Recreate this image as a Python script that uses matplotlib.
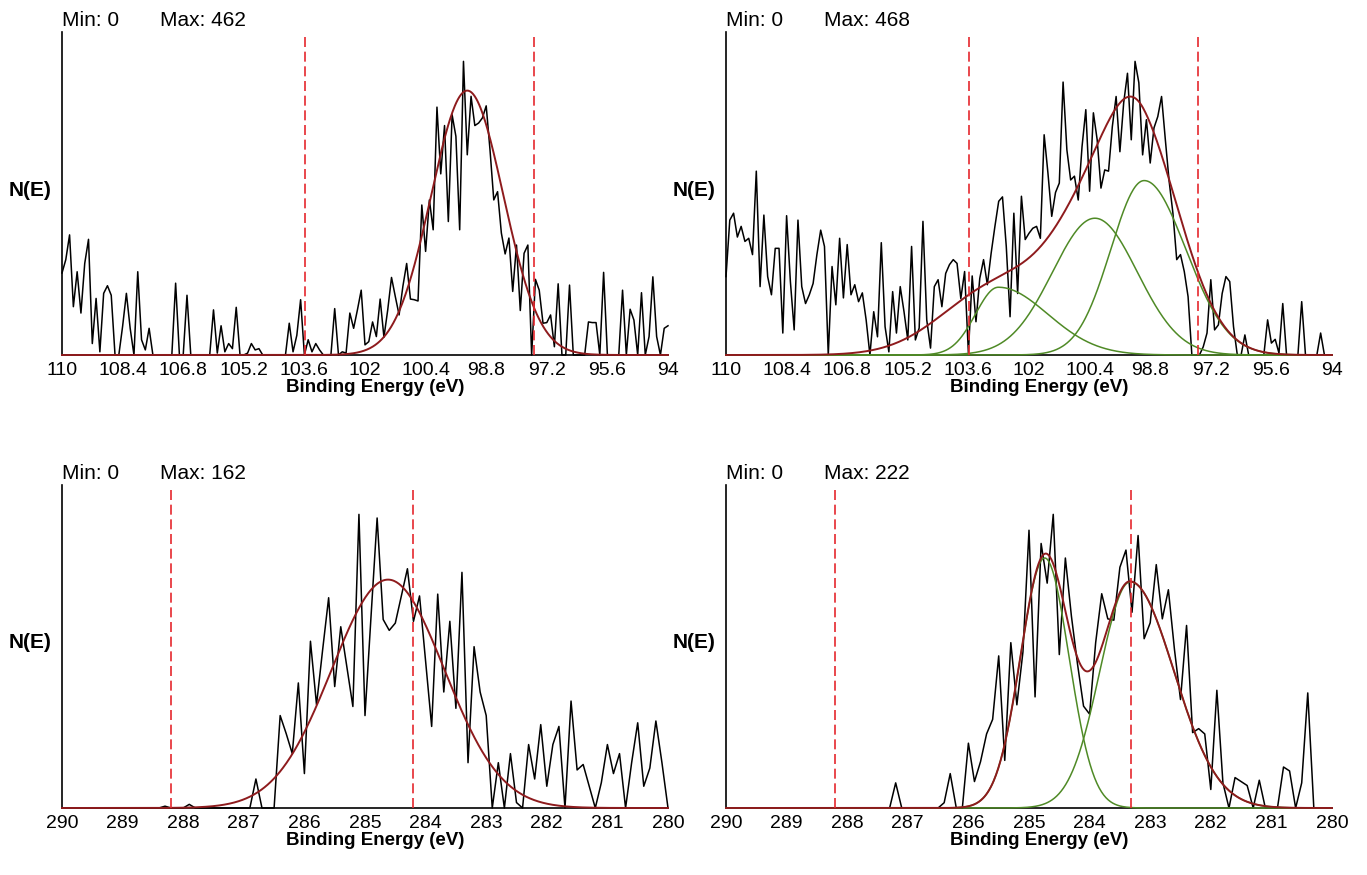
import numpy as np
import matplotlib
matplotlib.use('Agg')
from matplotlib import pyplot as plt

plt.rcParams['font.family'] = ['Liberation Sans', 'DejaVu Sans']

# Si 2p region, 0.1 eV steps 110 -> 94 eV
si_energy = np.round(np.arange(110.0, 93.95, -0.1), 1)
si_counts_a = [129, 150, 189, 76, 131, 66, 144, 182, 18, 89,
               5, 97, 109, 94, 0, 0, 45, 97, 42, 0,
               131, 24, 8, 42, 0, 0, 0, 0, 0, 0,
               113, 0, 0, 94, 0, 0, 0, 0, 0, 0,
               71, 3, 46, 5, 18, 10, 75, 0, 0, 3,
               18, 8, 10, 0, 0, 0, 0, 0, 0, 0,
               50, 5, 31, 87, 0, 24, 5, 18, 8, 0,
               0, 0, 73, 0, 5, 3, 66, 42, 71, 102,
               16, 21, 52, 29, 88, 28, 71, 122, 92, 63,
               108, 144, 88, 87, 85, 236, 163, 244, 197, 390,
               285, 361, 210, 378, 344, 197, 462, 315, 407, 361,
               365, 373, 392, 323, 244, 257, 192, 159, 184, 100,
               173, 70, 160, 173, 0, 119, 102, 50, 51, 63,
               13, 112, 0, 0, 110, 0, 0, 0, 0, 52,
               51, 51, 0, 130, 0, 0, 0, 0, 102, 0,
               72, 55, 0, 98, 0, 29, 123, 29, 0, 42,
               46]
si_counts_b = [125, 215, 226, 188, 205, 181, 186, 160, 293, 109,
               223, 125, 96, 170, 170, 35, 222, 117, 40, 215,
               109, 82, 96, 114, 160, 199, 173, 0, 141, 80,
               186, 91, 176, 96, 112, 85, 99, 56, 0, 69,
               29, 179, 45, 5, 101, 35, 109, 69, 24, 173,
               24, 43, 213, 56, 11, 109, 120, 77, 130, 144,
               152, 146, 90, 133, 3, 126, 53, 122, 152, 112,
               162, 205, 245, 252, 173, 61, 226, 98, 253, 184,
               194, 202, 205, 186, 351, 290, 221, 259, 274, 435,
               327, 279, 285, 247, 332, 391, 261, 386, 343, 266,
               295, 293, 364, 412, 324, 402, 449, 343, 468, 434,
               319, 375, 306, 362, 380, 412, 343, 277, 226, 152,
               160, 133, 93, 0, 0, 0, 13, 35, 120, 40,
               48, 98, 125, 117, 45, 0, 0, 32, 0, 0,
               0, 0, 0, 56, 19, 25, 3, 82, 0, 0,
               0, 0, 85, 0, 0, 0, 0, 35, 0, 0,
               0]

# C 1s region, 0.1 eV steps 290 -> 280 eV
c_energy = np.round(np.arange(290.0, 279.95, -0.1), 1)
c_counts_a = [0, 0, 0, 0, 0, 0, 0, 0, 0, 0,
              0, 0, 0, 0, 0, 0, 0, 1, 0, 0,
              0, 2, 0, 0, 0, 0, 0, 0, 0, 0,
              0, 0, 16, 0, 0, 0, 51, 41, 30, 69,
              19, 92, 57, 87, 116, 67, 100, 78, 56, 162,
              51, 106, 160, 104, 98, 102, 117, 132, 103, 117,
              81, 45, 118, 64, 103, 55, 130, 25, 89, 64,
              51, 0, 25, 0, 30, 3, 0, 35, 16, 46,
              12, 35, 45, 0, 59, 21, 24, 12, 0, 14,
              35, 19, 30, 0, 25, 47, 12, 22, 48, 25,
              0]
c_counts_b = [0, 0, 0, 0, 0, 0, 0, 0, 0, 0,
              0, 0, 0, 0, 0, 0, 0, 0, 0, 0,
              0, 0, 0, 0, 0, 0, 0, 0, 19, 0,
              0, 0, 0, 0, 0, 0, 4, 26, 0, 0,
              49, 20, 35, 56, 67, 115, 36, 125, 78, 118,
              210, 84, 200, 170, 222, 116, 189, 145, 109, 77,
              71, 125, 162, 143, 142, 182, 195, 148, 206, 128,
              140, 184, 143, 165, 120, 82, 138, 57, 60, 56,
              14, 89, 19, 0, 23, 20, 17, 0, 21, 0,
              0, 0, 31, 28, 0, 19, 87, 0, 0, 0,
              0]

# fitted peaks: centre (eV), height, width on high-BE side, width on low-BE side
si_fit_a = [(99.3, 416, 0.95, 0.95)]
si_fit_b = [(102.81, 108, 0.6, 1.3), (100.26, 218, 1.12, 1.12), (98.96, 278, 0.88, 1.1)]
si_env_b = [(102.81, 108, 1.45, 1.3), (100.26, 218, 1.12, 1.12), (98.96, 278, 0.88, 1.1)]
c_fit_a = [(284.62, 126, 0.93, 0.93)]
c_fit_b = [(284.74, 189, 0.4, 0.4), (283.33, 171, 0.5, 0.72)]

# integration windows (red dashed)
si_window = [103.58, 97.54]
c_window_a = [288.2, 284.21]
c_window_b = [288.2, 283.32]

si_ticks = [110, 108.4, 106.8, 105.2, 103.6, 102, 100.4, 98.8, 97.2, 95.6, 94]
c_ticks = [290, 289, 288, 287, 286, 285, 284, 283, 282, 281, 280]

W, H = 1367, 875
DARKRED = '#8e1b1d'
GREEN = '#4f8a26'
DASHRED = '#e5282e'


def peak(x, c, h, s_hi, s_lo):
    s = np.where(x > c, s_hi, s_lo)
    return h * np.exp(-(x - c) ** 2 / (2 * s ** 2))


def fx(px):
    return px / W


def fy(py):
    return 1 - py / H


fig = plt.figure(figsize=(W / 100, H / 100), dpi=100)


def panel(left, top, energy, counts, fits, window, ticks, xlim, env=None):
    ax = fig.add_axes([fx(left), fy(top + 323), 606 / W, 323 / H])
    ax.plot(energy, counts, color='black', lw=1.1, clip_on=False, zorder=2)
    grid = np.linspace(xlim[0], xlim[1], 800)
    comps = [peak(grid, *p) for p in fits]
    if len(comps) > 1:
        for c in comps:
            ax.plot(grid, c, color=GREEN, lw=1.1, clip_on=False, zorder=3)
    if env is None:
        total = np.sum(comps, axis=0)
    else:
        total = np.sum([peak(grid, *p) for p in env], axis=0)
    ax.plot(grid, total, color=DARKRED, lw=1.4, clip_on=False, zorder=4)
    for w in window:
        ax.axvline(w, ymin=0, ymax=0.985, color=DASHRED, lw=1.2, ls=(0, (6, 2.8)), zorder=5)
    ax.set_xlim(*xlim)
    ax.set_ylim(0, max(counts) * 1.1)
    for s in ['top', 'right']:
        ax.spines[s].set_visible(False)
    for s in ['left', 'bottom']:
        ax.spines[s].set_linewidth(1.2)
        ax.spines[s].set_zorder(1)
    ax.set_yticks([])
    ax.set_xticks(ticks)
    ax.set_xticklabels(['%g' % t for t in ticks], fontsize=14)
    ax.tick_params(axis='x', length=0, pad=5)
    ax.set_facecolor('none')
    # annotations
    fig.text(fx(left), fy(top - 6), 'Min: 0', fontsize=15, va='baseline', ha='left')
    fig.text(fx(left + 98), fy(top - 6), 'Max: %d' % max(counts), fontsize=15, va='baseline', ha='left')
    fig.text(fx(left - 32), fy(top + 158), 'N(E)', fontsize=15, fontweight='bold', ha='center', va='center')
    fig.text(fx(left + 313), fy(top + 360), 'Binding Energy (eV)', fontsize=13.5,
             fontweight='bold', ha='center', va='baseline')
    return ax


panel(62, 32, si_energy, si_counts_a, si_fit_a, si_window, si_ticks, (110, 94))
panel(726, 32, si_energy, si_counts_b, si_fit_b, si_window, si_ticks, (110, 94), env=si_env_b)
panel(62, 485, c_energy, c_counts_a, c_fit_a, c_window_a, c_ticks, (290, 280))
panel(726, 485, c_energy, c_counts_b, c_fit_b, c_window_b, c_ticks, (290, 280))

fig.savefig('out.png', dpi=100)
